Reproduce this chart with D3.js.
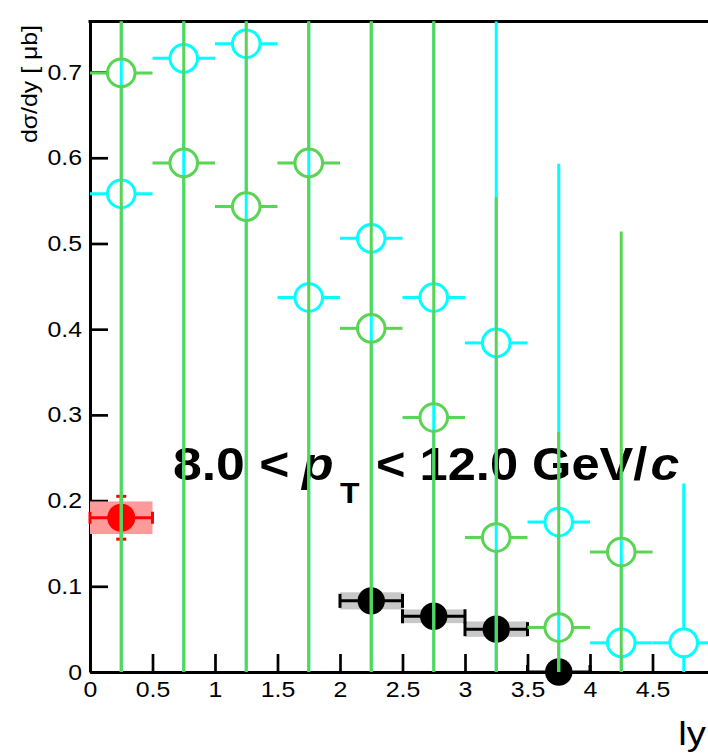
<!DOCTYPE html>
<html><head><meta charset="utf-8">
<script src="https://cdn.jsdelivr.net/npm/d3@7"></script>
<style>body{margin:0;background:#fff}svg{display:block;font-family:"Liberation Sans",Arial,Helvetica,sans-serif}</style>
</head><body><svg id="c" width="708" height="754"></svg>
<script>
// ---------- data ----------
const binCenters = [0.25, 0.75, 1.25, 1.75, 2.25, 2.75, 3.25, 3.75, 4.25, 4.75];
const binHalfWidth = 0.25;
const cyanValues = [0.558, 0.716, 0.733, 0.437, 0.506, 0.437, 0.384, 0.175, 0.034, 0.034];
const cyanErrors = [0.72, 0.78, 0.80, 0.62, 0.58, 0.55, 0.45, 0.418, 0.20, 0.186];
const greenBins = [0.25, 0.75, 1.25, 1.75, 2.25, 2.75, 3.25, 3.75, 4.25];
const greenValues = [0.699, 0.594, 0.543, 0.594, 0.401, 0.297, 0.157, 0.052, 0.140];
const greenErrors = [0.78, 0.72, 0.66, 0.70, 0.55, 0.50, 0.397, 0.228, 0.374];
const blackBins = [2.25, 2.75, 3.25, 3.75];
const blackValues = [0.083, 0.065, 0.050, 0.0];
const blackSys = [0.010, 0.008, 0.009, 0.0];
const redBins = [0.25];
const redValues = [0.180];
const redStat = [0.025];
const redSys = [0.019];
const yTicks = [0, 0.1, 0.2, 0.3, 0.4, 0.5, 0.6, 0.7];
const xTicks = [0, 0.5, 1, 1.5, 2, 2.5, 3, 3.5, 4, 4.5, 5];
const xTitle = "ly";
const yTitle = "dσ/dy [ μb]";

// ---------- setup ----------
const svg = d3.select("#c");
const W = 708, H = 754;
const x = d3.scaleLinear().domain([0, 5]).range([90, 715]);
const y = d3.scaleLinear().domain([0, 0.759]).range([672, 21.5]);
const SX = 1.13; // horizontal glyph stretch
const GREEN = "#59d454", CYAN = "#00ffff", RED = "#ff0000";

svg.append("rect").attr("width", W).attr("height", H).attr("fill", "#fff");

svg.append("defs").append("clipPath").attr("id", "clip")
  .append("rect").attr("x", x(0)).attr("y", y(0.759)).attr("width", x(5) - x(0)).attr("height", y(0) - y(0.759));

// ---------- axes ----------
const gx = svg.append("g").attr("transform", `translate(0,${y(0)})`);
gx.call(d3.axisBottom(x).tickValues(d3.range(0, 5.001, 0.1)).tickSize(-10).tickSizeOuter(0).tickFormat(""));
gx.call(d3.axisBottom(x).tickValues(xTicks).tickSize(-18).tickSizeOuter(0).tickPadding(9)
  .tickFormat(d => (x(d) + 8 > W) ? "" : d3.format("")(d)));
const gy = svg.append("g").attr("transform", `translate(${x(0)},0)`);
gy.call(d3.axisLeft(y).tickValues(d3.range(0, 0.759, 0.02)).tickSize(-10).tickSizeOuter(0).tickFormat(""));
gy.call(d3.axisLeft(y).tickValues(yTicks).tickSize(-18).tickSizeOuter(0).tickPadding(8)
  .tickFormat(d => d === 0 ? "0" : d3.format(".1f")(d)));
[gx, gy].forEach(g => {
  g.selectAll("path.domain").attr("stroke", "#000").attr("stroke-width", 3);
  g.selectAll(".tick line").attr("stroke", "#000").attr("stroke-width", 2.7);
  g.selectAll(".tick text").attr("font-size", 22).attr("fill", "#000")
    .attr("font-family", '"Liberation Sans",Arial,sans-serif');
});
gx.selectAll(".tick text").attr("transform", `scale(${SX},1)`);
gy.selectAll(".tick text").each(function () {
  const t = d3.select(this); const tx = +t.attr("x");
  t.attr("x", 0).attr("transform", `translate(${tx},0) scale(${SX},1)`);
});
// top frame line
svg.append("line").attr("x1", x(0) - 1.5).attr("x2", x(5)).attr("y1", y(0.759)).attr("y2", y(0.759))
  .attr("stroke", "#000").attr("stroke-width", 3);

// axis titles
svg.append("text").text(yTitle).attr("font-size", 22).attr("text-anchor", "end")
  .attr("transform", `translate(37,25) rotate(-90) scale(${SX},1)`);
svg.append("text").text(xTitle).attr("font-size", 34).attr("text-anchor", "end")
  .attr("transform", `translate(706,745) scale(${SX},1)`);

// ---------- label text ----------
const lab = svg.append("g").attr("font-weight", "bold").attr("fill", "#000");
const LS = 1.1;
function piece(str, px, py, size, italic) {
  const t = lab.append("text").text(str).attr("font-size", size).attr("font-style", italic ? "italic" : "normal")
    .attr("transform", `translate(${px},${py}) scale(${LS},1)`);
  return px + t.node().getComputedTextLength() * LS;
}
piece("8.0 <", 173, 480, 47, false);
piece("p", 302, 480, 47, true);
piece("T", 340, 503, 29, false);
const endGeV = piece("< 12.0 GeV/", 376, 480, 46, false);
piece("c", endGeV + 3, 480, 47, true);

// ---------- helpers ----------
const clipG = () => svg.append("g").attr("clip-path", "url(#clip)");

// systematic boxes
const sysG = svg.append("g");
sysG.selectAll("rect.r").data(redValues).join("rect")
  .attr("x", (d, i) => x(redBins[i] - binHalfWidth)).attr("width", (d, i) => x(redBins[i] + binHalfWidth) - x(redBins[i] - binHalfWidth))
  .attr("y", (d, i) => y(d + redSys[i])).attr("height", (d, i) => y(d - redSys[i]) - y(d + redSys[i]))
  .attr("fill", "#ff9a9a");
sysG.selectAll("rect.b").data(blackValues).join("rect")
  .attr("x", (d, i) => x(blackBins[i] - binHalfWidth)).attr("width", (d, i) => x(blackBins[i] + binHalfWidth) - x(blackBins[i] - binHalfWidth))
  .attr("y", (d, i) => y(d + blackSys[i])).attr("height", (d, i) => y(d - blackSys[i]) - y(d + blackSys[i]))
  .attr("fill", "#c8c8c8");

// red point
const redG = svg.append("g").attr("stroke", RED).attr("stroke-width", 3);
redValues.forEach((v, i) => {
  const cx = x(redBins[i]);
  redG.append("line").attr("x1", x(redBins[i] - binHalfWidth)).attr("x2", x(redBins[i] + binHalfWidth)).attr("y1", y(v)).attr("y2", y(v));
  [redBins[i] - binHalfWidth, redBins[i] + binHalfWidth].forEach(e =>
    redG.append("line").attr("x1", x(e)).attr("x2", x(e)).attr("y1", y(v) - 6).attr("y2", y(v) + 6));
  redG.append("line").attr("x1", cx).attr("x2", cx).attr("y1", y(v + redStat[i])).attr("y2", y(v - redStat[i]));
  [v + redStat[i], v - redStat[i]].forEach(e =>
    redG.append("line").attr("x1", cx - 5).attr("x2", cx + 5).attr("y1", y(e)).attr("y2", y(e)));
  redG.append("circle").attr("cx", cx).attr("cy", y(v)).attr("r", 14).attr("fill", RED).attr("stroke", "none");
});

// black points
const blkG = svg.append("g").attr("stroke", "#000").attr("stroke-width", 3);
const blkClip = clipG().attr("stroke", "#000").attr("stroke-width", 3);
blackValues.forEach((v, i) => {
  const c = blackBins[i];
  blkClip.append("line").attr("x1", x(c - binHalfWidth)).attr("x2", x(c + binHalfWidth)).attr("y1", y(v)).attr("y2", y(v));
  [c - binHalfWidth, c + binHalfWidth].forEach(e =>
    blkClip.append("line").attr("x1", x(e)).attr("x2", x(e)).attr("y1", y(v) - 7).attr("y2", y(v) + 7));
});
blkG.selectAll("circle").data(blackValues).join("circle")
  .attr("cx", (d, i) => x(blackBins[i])).attr("cy", d => y(d)).attr("r", 13.7).attr("fill", "#000").attr("stroke", "none");

// open-circle series with gaps at the marker
function openSeries(bins, vals, errs, color) {
  const R = 13.8;
  const eg = clipG().attr("stroke", color).attr("stroke-width", 3);
  vals.forEach((v, i) => {
    const cx = x(bins[i]), cy = y(v);
    eg.append("line").attr("x1", cx).attr("x2", cx).attr("y1", cy - R).attr("y2", y(v + errs[i]));
    eg.append("line").attr("x1", cx).attr("x2", cx).attr("y1", cy + R).attr("y2", y(v - errs[i]));
    eg.append("line").attr("x1", x(bins[i] - binHalfWidth)).attr("x2", cx - R).attr("y1", cy).attr("y2", cy);
    eg.append("line").attr("x1", cx + R).attr("x2", x(bins[i] + binHalfWidth)).attr("y1", cy).attr("y2", cy);
  });
  svg.append("g").selectAll("circle").data(vals).join("circle")
    .attr("cx", (d, i) => x(bins[i])).attr("cy", d => y(d)).attr("r", R)
    .attr("fill", "none").attr("stroke", color).attr("stroke-width", 3);
}
openSeries(binCenters, cyanValues, cyanErrors, CYAN);
openSeries(greenBins, greenValues, greenErrors, GREEN);
</script></body></html>
